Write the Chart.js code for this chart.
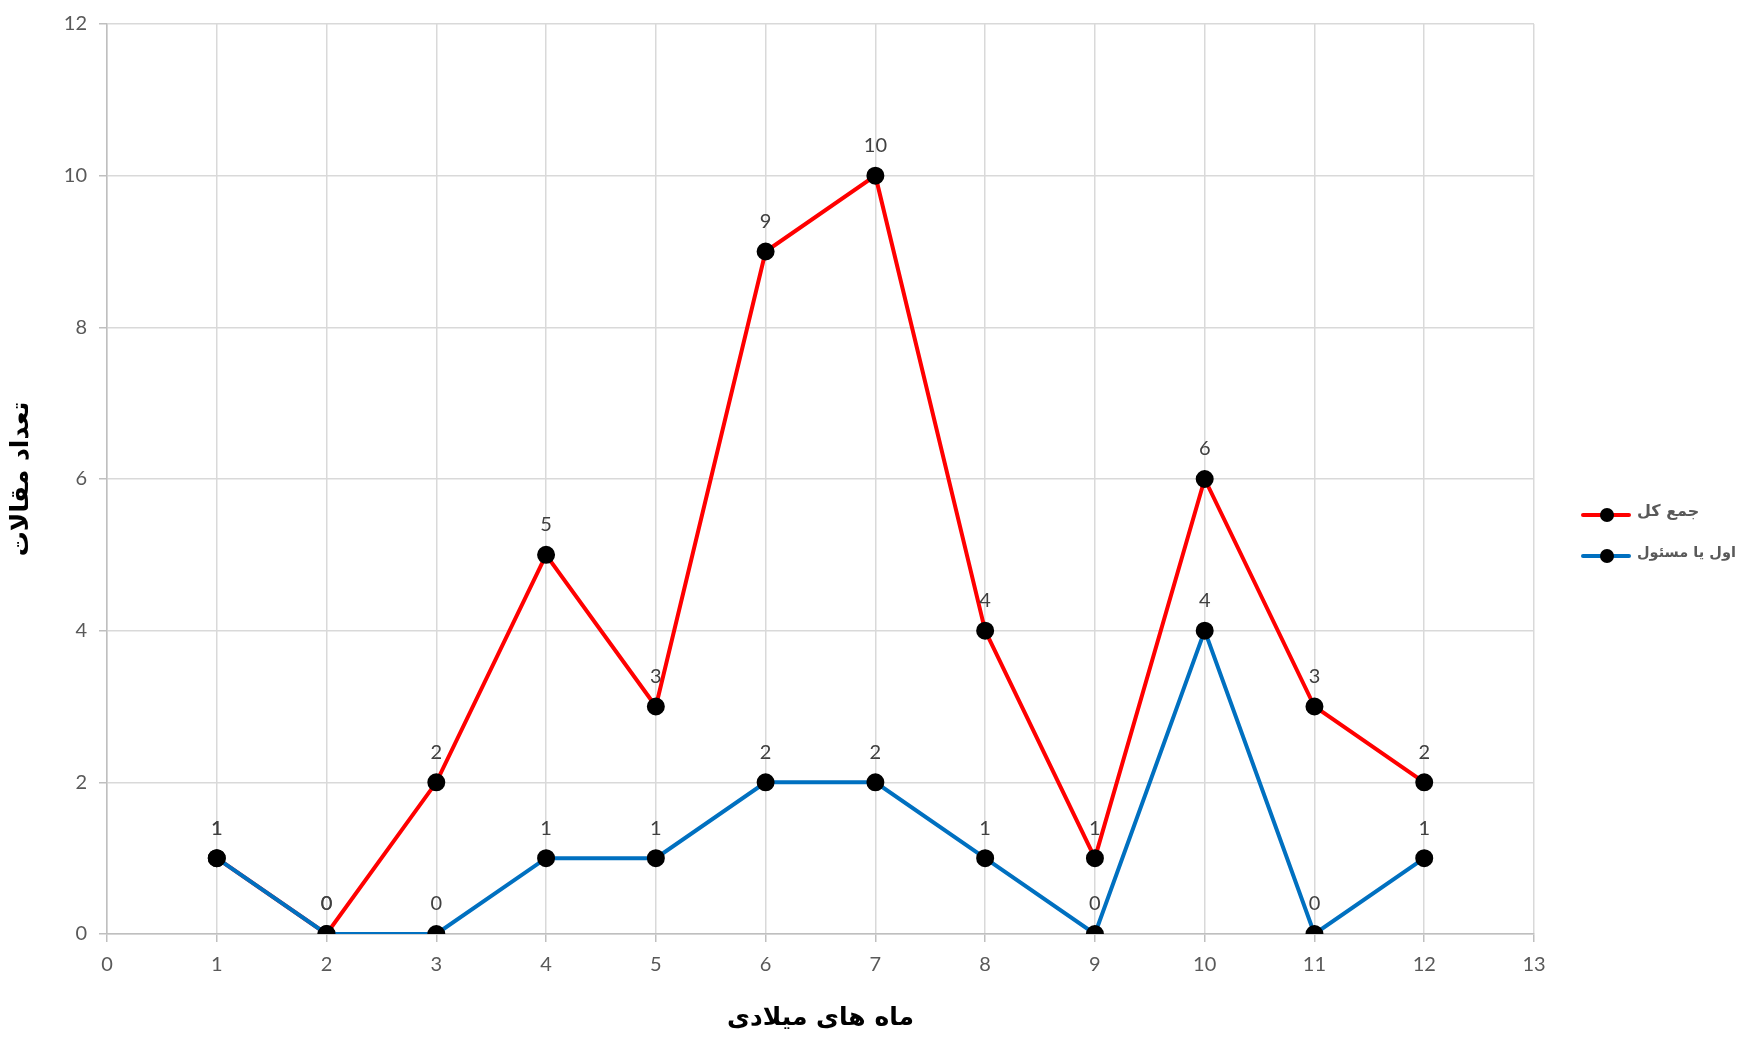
<!DOCTYPE html>
<html>
<head>
<meta charset="utf-8">
<script src="https://cdn.jsdelivr.net/npm/chart.js@4.4.0/dist/chart.umd.min.js"></script>
<style>
  html, body { margin: 0; padding: 0; background: #fff; overflow: hidden; }
  #wrap { position: relative; width: 1740px; height: 1039px; }
  .leg { position: absolute; left: 1581px; width: 158px; height: 20px; }
  .leg .ln { position: absolute; left: 0; top: 8px; width: 50px; height: 4px; border-radius: 2px; }
  .leg .pt { position: absolute; left: 19px; top: 3px; width: 14px; height: 14px; border-radius: 50%; background: #000; }
  .leg .tx { position: absolute; left: 56px; top: -4px; white-space: nowrap; font: bold 16px "DejaVu Sans", sans-serif; color: #595959; }
</style>
</head>
<body>
<div id="wrap">
  <canvas id="chart" width="1740" height="1039"></canvas>
  <div class="leg" style="top:505px"><div class="ln" style="background:#FF0000"></div><div class="pt"></div><span class="tx" dir="rtl">جمع کل</span></div>
  <div class="leg" style="top:546px"><div class="ln" style="background:#0070C0"></div><div class="pt"></div><span class="tx" dir="rtl" style="font-size:14.5px;top:-2px">اول یا مسئول</span></div>
</div>
<script>
// months on the x axis
const months = [1, 2, 3, 4, 5, 6, 7, 8, 9, 10, 11, 12];
// total articles
const totalCounts = [1, 0, 2, 5, 3, 9, 10, 4, 1, 6, 3, 2];
// first or corresponding author
const firstCounts = [1, 0, 0, 1, 1, 2, 2, 1, 0, 4, 0, 1];

const xTitle = 'ماه های میلادی';
const yTitle = 'تعداد مقالات';

// draw the value above each point (no datalabels plugin available offline)
const valueLabels = {
  id: 'valueLabels',
  afterDatasetsDraw(chart) {
    const ctx = chart.ctx;
    ctx.save();
    ctx.font = '20px Lato, "Open Sans", sans-serif';
    ctx.fillStyle = '#404040';
    ctx.textAlign = 'center';
    ctx.textBaseline = 'middle';
    chart.data.datasets.forEach((ds, i) => {
      chart.getDatasetMeta(i).data.forEach((pt, j) => {
        ctx.fillText(String(ds.data[j].y), pt.x, pt.y - 30);
      });
    });
    ctx.restore();
  }
};

new Chart(document.getElementById('chart').getContext('2d'), {
  type: 'line',
  data: {
    datasets: [
      {
        label: 'جمع کل',
        data: months.map((m, i) => ({ x: m, y: totalCounts[i] })),
        borderColor: '#FF0000',
        borderWidth: 4,
        pointBackgroundColor: '#000',
        pointBorderColor: '#000',
        pointRadius: 7,
        tension: 0,
        order: 2
      },
      {
        label: 'اول یا مسئول',
        data: months.map((m, i) => ({ x: m, y: firstCounts[i] })),
        borderColor: '#0070C0',
        borderWidth: 4,
        pointBackgroundColor: '#000',
        pointBorderColor: '#000',
        pointRadius: 7,
        tension: 0,
        order: 1
      }
    ]
  },
  options: {
    responsive: false,
    animation: false,
    layout: { padding: { top: 18, right: 206, left: 0, bottom: 0 } },
    plugins: { legend: { display: false }, tooltip: { enabled: false } },
    scales: {
      x: {
        type: 'linear',
        min: 0,
        max: 13,
        ticks: { stepSize: 1, color: '#595959', padding: 11, font: { size: 20, family: 'Lato, "Open Sans", sans-serif' } },
        grid: { color: '#D9D9D9', lineWidth: 1.5, tickLength: 8, tickColor: '#BFBFBF' },
        border: { color: '#BFBFBF', width: 1.5 },
        title: { display: true, text: xTitle, color: '#000', padding: { top: 0, bottom: 6 }, font: { size: 25, weight: 'bold', family: '"DejaVu Sans", sans-serif' } },
        afterFit(scale) { scale.height = 105; }
      },
      y: {
        min: 0,
        max: 12,
        ticks: { stepSize: 2, color: '#595959', padding: 12, font: { size: 20, family: 'Lato, "Open Sans", sans-serif' } },
        grid: { color: '#D9D9D9', lineWidth: 1.5, tickLength: 8, tickColor: '#BFBFBF' },
        border: { color: '#BFBFBF', width: 1.5 },
        title: { display: true, text: yTitle, color: '#000', padding: { top: 6, bottom: 0 }, font: { size: 25, weight: 'bold', family: '"DejaVu Sans", sans-serif' } },
        afterFit(scale) { scale.width = 107; }
      }
    }
  },
  plugins: [valueLabels]
});
</script>
</body>
</html>
